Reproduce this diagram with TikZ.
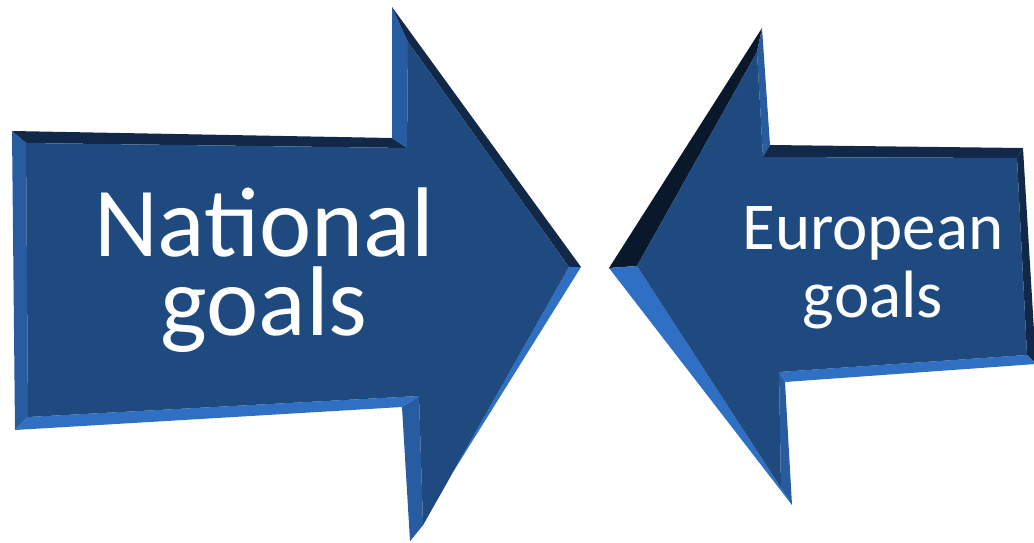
\documentclass[tikz,border=0pt]{standalone}
\usepackage{fontspec}
\setmainfont{Carlito}
\usepackage{xcolor}
\definecolor{goalface}{RGB}{31, 74, 127}
\definecolor{bevellight}{RGB}{48, 112, 196}
\definecolor{bevelmid}{RGB}{40, 92, 160}
\definecolor{beveldark}{RGB}{18, 40, 72}
\definecolor{bevelblack}{RGB}{10, 24, 44}

\tikzset{
    goaltext/.style={text=white, align=center, inner sep=0pt}
}

\begin{document}
\begin{tikzpicture}[x=1pt, y=-1pt]
            \useasboundingbox (0,0) rectangle (1034,543);

            % National goals arrow, outer outline
            \coordinate (na1) at (12,131);
            \coordinate (na2) at (392,138);
            \coordinate (na3) at (392,7);
            \coordinate (na4) at (581,267);
            \coordinate (na5) at (410,541);
            \coordinate (na6) at (402,407);
            \coordinate (na7) at (15,430);
            % inner face
            \coordinate (ni1) at (26,143);
            \coordinate (ni2) at (407,148);
            \coordinate (ni3) at (408,42);
            \coordinate (ni4) at (569,267);
            \coordinate (ni5) at (423,525);
            \coordinate (ni6) at (419,396);
            \coordinate (ni7) at (28,417);

            % bevels
            \fill[beveldark] (na1) -- (na2) -- (ni2) -- (ni1) -- cycle;
            \fill[bevelmid] (na7) -- (na1) -- (ni1) -- (ni7) -- cycle;
            \fill[bevelmid] (na2) -- (na3) -- (ni3) -- (ni2) -- cycle;
            \fill[beveldark] (na3) -- (na4) -- (ni4) -- (ni3) -- cycle;
            \fill[bevellight] (na4) -- (na5) -- (ni5) -- (ni4) -- cycle;
            \fill[bevelmid] (na5) -- (na6) -- (ni6) -- (ni5) -- cycle;
            \fill[bevellight] (na6) -- (na7) -- (ni7) -- (ni6) -- cycle;
            % face
            \fill[goalface] (ni1) -- (ni2) -- (ni3) -- (ni4) -- (ni5) -- (ni6) -- (ni7) -- cycle;

            % European goals arrow, outer outline
            \coordinate (ea1) at (609,268);
            \coordinate (ea2) at (762,28);
            \coordinate (ea3) at (770,145);
            \coordinate (ea4) at (1023,148);
            \coordinate (ea5) at (1036,364);
            \coordinate (ea6) at (785,382);
            \coordinate (ea7) at (792,505);
            % inner face
            \coordinate (ei1) at (637,266);
            \coordinate (ei2) at (757,52);
            \coordinate (ei3) at (763,157);
            \coordinate (ei4) at (1017,158);
            \coordinate (ei5) at (1027,355);
            \coordinate (ei6) at (779,372);
            \coordinate (ei7) at (781,488);

            % bevels
            \fill[bevelblack] (ea1) -- (ea2) -- (ei2) -- (ei1) -- cycle;
            \fill[bevelmid] (ea2) -- (ea3) -- (ei3) -- (ei2) -- cycle;
            \fill[beveldark] (ea3) -- (ea4) -- (ei4) -- (ei3) -- cycle;
            \fill[beveldark] (ea4) -- (ea5) -- (ei5) -- (ei4) -- cycle;
            \fill[bevellight] (ea5) -- (ea6) -- (ei6) -- (ei5) -- cycle;
            \fill[bevelmid] (ea6) -- (ea7) -- (ei7) -- (ei6) -- cycle;
            \fill[bevellight] (ea7) -- (ea1) -- (ei1) -- (ei7) -- cycle;
            % face
            \fill[goalface] (ei1) -- (ei2) -- (ei3) -- (ei4) -- (ei5) -- (ei6) -- (ei7) -- cycle;

            % Labels
            \node[goaltext, font=\fontsize{99}{79}\selectfont] (national) at (264,270) {National\\goals};
            \node[goaltext, font=\fontsize{67}{68}\selectfont] (european) at (873,268) {European\\goals};
        \end{tikzpicture}
\end{document}
